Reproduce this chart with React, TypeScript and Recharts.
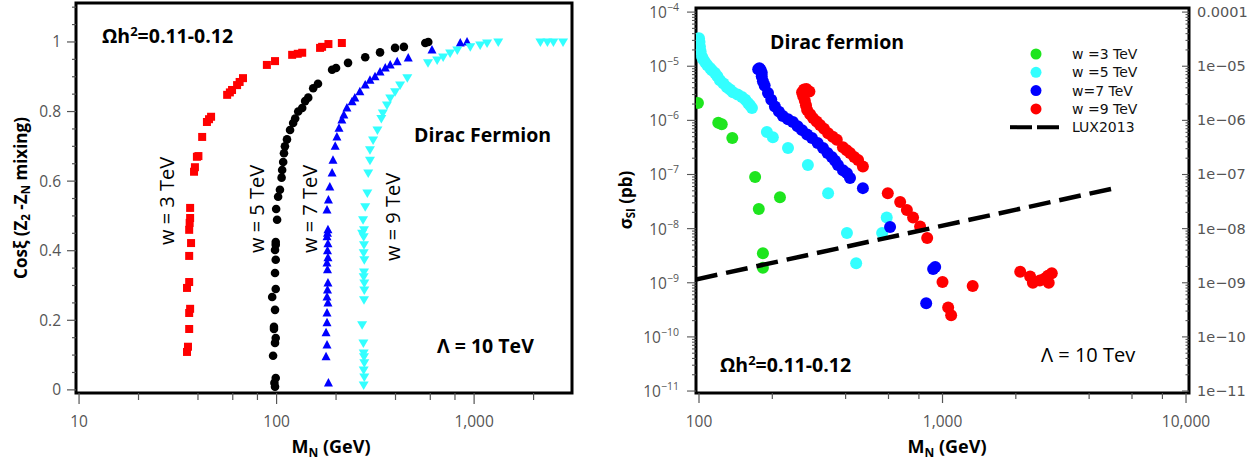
import React from "react";
import { ScatterChart, Scatter, XAxis, YAxis, ReferenceArea, Legend } from "recharts";

type Pt = [number, number];

// ---- left panel: Cos(xi) vs M_N (GeV) ----
const mixW3: Pt[] = [
  [35.2, 0.109], [35.6, 0.124], [36.1, 0.175], [36.1, 0.221], [36.5, 0.233], [35.2, 0.293],
  [36.1, 0.31], [36.1, 0.385], [36.9, 0.422], [36.1, 0.46], [36.3, 0.48], [36.5, 0.494],
  [36.5, 0.523], [38.2, 0.627], [38.6, 0.64], [39.5, 0.67], [40.2, 0.672], [42.0, 0.727],
  [44.4, 0.77], [45.5, 0.778], [46.6, 0.785], [56.2, 0.848], [58, 0.855], [59.5, 0.862],
  [63.1, 0.876], [65, 0.885], [67.6, 0.896], [89.3, 0.934], [98.2, 0.945], [119.9, 0.963],
  [128, 0.966], [134.8, 0.969], [166, 0.983], [170, 0.986], [183, 0.994], [214, 0.997],
];
const mixW5: Pt[] = [
  [98.2, 0.009], [97.5, 0.02], [99, 0.034], [96, 0.098], [98.2, 0.135], [99, 0.149],
  [97, 0.175], [97, 0.181], [98.2, 0.23], [95, 0.267], [99, 0.29], [98.2, 0.336],
  [99, 0.374], [98.2, 0.402], [99, 0.417], [99, 0.425], [100.6, 0.489], [99.5, 0.52],
  [101.8, 0.555], [104, 0.575], [106, 0.61], [106.7, 0.632], [108, 0.655], [109, 0.68],
  [110.2, 0.7], [112.9, 0.72], [117, 0.747], [121.3, 0.767], [124.2, 0.78], [128.7, 0.8],
  [134.8, 0.81], [139.5, 0.83], [144.6, 0.84], [153.2, 0.867], [162, 0.88], [191, 0.92],
  [200, 0.925], [230, 0.94], [281, 0.956], [334, 0.97], [398, 0.983], [441, 0.986],
  [566, 0.997], [586, 1.0],
];
const mixW7: Pt[] = [
  [183, 0.02], [178, 0.095], [180, 0.129], [178, 0.164], [180, 0.193], [180, 0.221],
  [182, 0.25], [180, 0.267], [181, 0.287], [182, 0.307], [181, 0.345], [180, 0.365],
  [182, 0.38], [181, 0.4], [182, 0.42], [180, 0.44], [181, 0.45], [182, 0.46], [180, 0.517],
  [183, 0.546], [186, 0.583], [191, 0.623], [193, 0.66], [198, 0.7], [202, 0.727],
  [207, 0.752], [214, 0.776], [219, 0.79], [227, 0.81], [241, 0.828], [249, 0.839],
  [264, 0.857], [281, 0.876], [297, 0.89], [315, 0.9], [334, 0.914], [355, 0.925],
  [376, 0.934], [408, 0.943], [464, 0.954], [612, 0.977], [851, 0.997], [921, 1.0],
];
const mixW9: Pt[] = [
  [276, 0.014], [278, 0.037], [276, 0.057], [278, 0.078], [277, 0.095], [276, 0.106],
  [275, 0.135], [271, 0.187], [277, 0.259], [278, 0.287], [278, 0.307], [276, 0.325],
  [277, 0.339], [278, 0.374], [276, 0.394], [277, 0.417], [276, 0.44], [277, 0.46],
  [271, 0.45], [274, 0.489], [281, 0.526], [288, 0.566], [291, 0.623], [297, 0.66],
  [297, 0.69], [308, 0.718], [324, 0.747], [339, 0.78], [345, 0.796], [362, 0.819],
  [376, 0.839], [398, 0.857], [422, 0.876], [459, 0.897], [584, 0.94], [650, 0.948],
  [697, 0.957], [756, 0.968], [822, 0.977], [956, 0.986], [1073, 0.991], [1163, 0.997],
  [1325, 1.0], [2165, 1.0], [2350, 1.0], [2520, 1.0], [2820, 1.0],
];

const mixXDomain: [number, number] = [9.65, 3130];
const mixYDomain: [number, number] = [-0.009, 1.112];
const mixXTicks = [10, 20, 40, 60, 80, 100, 200, 400, 600, 800, 1000, 2000];
const mixXMajors = [10, 100, 1000];
const mixYTicks = Array.from({ length: 23 }, (_, i) => +(i * 0.05).toFixed(2));
const mixYMajors = [0, 0.2, 0.4, 0.6, 0.8, 1];

// ---- right panel: sigma_SI (pb) vs M_N (GeV) ----
const siW3: Pt[] = [
  [99, 2.1e-6], [120, 9e-7], [124, 8.5e-7], [137, 4.7e-7], [170, 9e-8], [176, 2.3e-8],
  [215, 3.8e-8], [183, 3.5e-9], [183, 1.9e-9],
];
const siW5: Pt[] = [
  [100, 3.3e-5], [100.5, 2.8e-5], [100.9, 2.3e-5], [101.5, 1.9e-5], [102.9, 1.5e-5],
  [104, 1.35e-5], [105.8, 1.2e-5], [108, 1.05e-5], [110.9, 9.3e-6], [113, 8.4e-6],
  [116.3, 7.5e-6], [119, 6.5e-6], [121.9, 5.5e-6], [126, 4.8e-6], [130.3, 4.1e-6],
  [134, 3.7e-6], [137.9, 3.3e-6], [144, 3.0e-6], [150.1, 2.7e-6], [155, 2.4e-6],
  [158.9, 2.1e-6], [162, 1.9e-6], [165, 1.7e-6], [190, 6.1e-7], [201, 4.9e-7],
  [232, 3.1e-7], [280, 1.5e-7], [339, 4.5e-8], [405, 8.3e-9], [442, 2.3e-9],
  [565, 8.3e-9], [590, 1.6e-8],
];
const siW7: Pt[] = [
  [175, 8.8e-6], [177, 9.2e-6], [179, 8.6e-6], [181, 7.6e-6], [181, 6.5e-6], [183, 5.3e-6],
  [186, 4.4e-6], [192, 3.2e-6], [198, 2.4e-6], [205, 1.8e-6], [213, 1.45e-6], [221, 1.2e-6],
  [232, 1.05e-6], [243, 9.3e-7], [254, 7.8e-7], [265, 6.6e-7], [278, 5.5e-7], [291, 4.7e-7],
  [307, 3.8e-7], [323, 3.1e-7], [337, 2.5e-7], [351, 2.1e-7], [362, 1.8e-7], [372, 1.5e-7],
  [390, 1.2e-7], [405, 1.06e-7], [417, 8.6e-8], [471, 5.6e-8], [609, 1.07e-8],
  [857, 4.2e-10], [915, 1.8e-9], [933, 1.95e-9],
];
const siW9: Pt[] = [
  [265, 3.3e-6], [270, 3.7e-6], [276, 3.8e-6], [284, 3.4e-6], [268, 2.8e-6], [272, 2.3e-6],
  [275, 1.9e-6], [278, 1.55e-6], [286, 1.3e-6], [294, 1.1e-6], [304, 9.5e-7], [314, 8.2e-7],
  [326, 7e-7], [339, 5.8e-7], [354, 5e-7], [368, 4.4e-7], [390, 3.2e-7], [404, 2.8e-7],
  [417, 2.5e-7], [434, 2.1e-7], [450, 1.85e-7], [471, 1.4e-7], [596, 4.5e-8], [670, 3.1e-8],
  [714, 2.2e-8], [757, 1.6e-8], [809, 1.1e-8], [865, 6.7e-9], [1000, 1.03e-9],
  [1055, 3.5e-10], [1085, 2.5e-10], [1330, 8.7e-10], [2085, 1.6e-9], [2290, 1.3e-9],
  [2350, 1.0e-9], [2510, 1.1e-9], [2630, 1.2e-9], [2710, 1.35e-9], [2810, 1.5e-9],
  [2730, 1.0e-9],
];
const lux2013: Pt[] = [[97, 1.15e-9], [5100, 5.6e-8]];

const siXDomain: [number, number] = [97.2, 10285];
const siYDomain: [number, number] = [9.2e-12, 1.19e-4];
const siXTicks = [100, 200, 400, 600, 800, 1000, 2000, 4000, 6000, 8000, 10000];
const siXMajors = [100, 1000, 10000];
const siDecades = [-11, -10, -9, -8, -7, -6, -5, -4];
const siYMajors = siDecades.map((e) => Math.pow(10, e));
const siYTicks = siDecades
  .flatMap((e) => [1, 2, 3, 4, 5, 6, 7, 8, 9].map((m) => m * Math.pow(10, e)))
  .filter((v) => v >= siYDomain[0] && v <= siYDomain[1]);
const siRightLabels = ["1e\u221211", "1e\u221210", "1e\u221209", "1e\u221208", "1e\u221207", "1e\u221206", "1e\u221205", "0.0001"];

const legendNames = ["w =3 TeV", "w =5 TeV", "w=7 TeV", "w =9 TeV", "LUX2013"];

const toRows = (pts: Pt[]) => pts.map(([x, y]) => ({ x, y }));

const FONT = "'Open Sans', 'DejaVu Sans', sans-serif";
const tickText = { fontFamily: FONT, fontSize: 15.5, fill: "#555" };

const isMajor = (v: number, majors: number[]) =>
  majors.some((m) => Math.abs(v - m) <= Math.abs(m) * 1e-6 + 1e-12);

const fmtThousands = (v: number) => v.toLocaleString("en-US");

type TickArgs = { x?: number; y?: number; payload?: { value: number } };

const bottomTick = (majors: number[], majorLen: number, minorLen: number) => (p: TickArgs) => {
  const x = p.x ?? 0;
  const y = p.y ?? 0;
  const v = p.payload?.value ?? 0;
  const major = isMajor(v, majors);
  return (
    <g>
      <line x1={x} x2={x} y1={y} y2={y + (major ? majorLen : minorLen)} stroke="#555" strokeWidth={1.2} />
      {major && (
        <text x={x} y={y + 34} textAnchor="middle" {...tickText}>
          {fmtThousands(v)}
        </text>
      )}
    </g>
  );
};

const mixLeftTick = (p: TickArgs) => {
  const x = p.x ?? 0;
  const y = p.y ?? 0;
  const v = p.payload?.value ?? 0;
  const major = isMajor(v, mixYMajors);
  return (
    <g>
      <line x1={x} x2={x - (major ? 9 : 4)} y1={y} y2={y} stroke="#555" strokeWidth={1.2} />
      {major && (
        <text x={x - 15} y={y + 5.5} textAnchor="end" {...tickText}>
          {String(v)}
        </text>
      )}
    </g>
  );
};

const siLeftTick = (p: TickArgs) => {
  const x = p.x ?? 0;
  const y = p.y ?? 0;
  const v = p.payload?.value ?? 1;
  const major = isMajor(v, siYMajors);
  const e = Math.round(Math.log10(v));
  return (
    <g>
      <line x1={x} x2={x - (major ? 9 : 4)} y1={y} y2={y} stroke="#555" strokeWidth={1.1} />
      {major && (
        <text x={x - 17} y={y + 6} textAnchor="end" {...tickText}>
          10
          <tspan dy={-7} fontSize={10.5}>
            {"\u2212" + String(-e)}
          </tspan>
        </text>
      )}
    </g>
  );
};

const siRightTick = (p: TickArgs) => {
  const x = p.x ?? 0;
  const y = p.y ?? 0;
  const v = p.payload?.value ?? 1;
  const major = isMajor(v, siYMajors);
  const idx = siYMajors.findIndex((m) => isMajor(v, [m]));
  return (
    <g>
      <line x1={x} x2={x - (major ? 7 : 3.5)} y1={y} y2={y} stroke="#555" strokeWidth={1.1} />
      {major && (
        <text x={x + 8} y={y + 5} textAnchor="start" fontFamily="'DejaVu Sans', sans-serif" fontSize={14.5} fill="#555">
          {siRightLabels[idx]}
        </text>
      )}
    </g>
  );
};

type ShapeArgs = { cx?: number; cy?: number };

const square = (color: string) => (p: ShapeArgs) => (
  <rect x={(p.cx ?? 0) - 4} y={(p.cy ?? 0) - 4} width={8} height={8} fill={color} />
);
const dot = (color: string, r: number) => (p: ShapeArgs) => (
  <circle cx={p.cx} cy={p.cy} r={r} fill={color} />
);
const triUp = (color: string) => (p: ShapeArgs) => {
  const cx = p.cx ?? 0;
  const cy = p.cy ?? 0;
  return <polygon points={`${cx},${cy - 5} ${cx - 4.5},${cy + 3.5} ${cx + 4.5},${cy + 3.5}`} fill={color} />;
};
const triDown = (color: string) => (p: ShapeArgs) => {
  const cx = p.cx ?? 0;
  const cy = p.cy ?? 0;
  return <polygon points={`${cx},${cy + 5} ${cx - 5},${cy - 3.5} ${cx + 5},${cy - 3.5}`} fill={color} />;
};
const noShape = () => <g />;

const siColors = ["#1ee51e", "#33ffff", "#0000ff", "#ff0000"];

const SiLegend = () => (
  <svg width={170} height={100}>
    {legendNames.map((name, i) => {
      const cy = 12 + i * 18.3;
      return (
        <g key={name}>
          {i < 4 ? (
            <circle cx={36} cy={cy} r={5.5} fill={siColors[i]} />
          ) : (
            <line x1={10} x2={60} y1={cy} y2={cy} stroke="#000" strokeWidth={4} strokeDasharray="22 5" />
          )}
          <text x={72} y={cy + 5} fontFamily="'DejaVu Sans', sans-serif" fontSize={14} fill="#111">
            {name}
          </text>
        </g>
      );
    })}
  </svg>
);

const boldText = { fontFamily: FONT, fontWeight: 700, fill: "#000" } as const;

export default function App() {
  return (
    <div style={{ position: "absolute", left: 0, top: 0, width: 1256, height: 466, background: "#fff" }}>
      <div style={{ position: "absolute", left: 0, top: 0 }}>
        <ScatterChart width={600} height={466} margin={{ top: 3, right: 28, left: 0, bottom: 13 }}>
          <XAxis
            type="number"
            dataKey="x"
            scale="log"
            domain={mixXDomain}
            allowDataOverflow
            ticks={mixXTicks}
            interval={0}
            height={60}
            axisLine={false}
            tickLine={false}
            tickSize={0}
            tickMargin={0}
            tick={bottomTick(mixXMajors, 11, 7)}
          />
          <YAxis
            type="number"
            dataKey="y"
            domain={mixYDomain}
            allowDataOverflow
            ticks={mixYTicks}
            interval={0}
            width={76}
            axisLine={false}
            tickLine={false}
            tickSize={0}
            tickMargin={0}
            tick={mixLeftTick}
          />
          <Scatter name="w = 3 TeV" data={toRows(mixW3)} shape={square("#ff0000")} isAnimationActive={false} />
          <Scatter name="w = 5 TeV" data={toRows(mixW5)} shape={dot("#000000", 4.3)} isAnimationActive={false} />
          <Scatter name="w = 7 TeV" data={toRows(mixW7)} shape={triUp("#0000ff")} isAnimationActive={false} />
          <Scatter name="w = 9 TeV" data={toRows(mixW9)} shape={triDown("#33ffff")} isAnimationActive={false} />
          <ReferenceArea
            x1={mixXDomain[0]}
            x2={mixXDomain[1]}
            y1={mixYDomain[0]}
            y2={mixYDomain[1]}
            fill="none"
            stroke="#000"
            strokeWidth={3}
            ifOverflow="visible"
          />
        </ScatterChart>
      </div>

      <div style={{ position: "absolute", left: 600, top: 0 }}>
        <ScatterChart width={656} height={466} margin={{ top: 8, right: 0, left: 0, bottom: 13 }}>
          <XAxis
            type="number"
            dataKey="x"
            scale="log"
            domain={siXDomain}
            allowDataOverflow
            ticks={siXTicks}
            interval={0}
            height={60}
            axisLine={false}
            tickLine={false}
            tickSize={0}
            tickMargin={0}
            tick={bottomTick(siXMajors, 10, 6)}
          />
          <YAxis
            yAxisId="l"
            type="number"
            dataKey="y"
            scale="log"
            domain={siYDomain}
            allowDataOverflow
            ticks={siYTicks}
            interval={0}
            width={96}
            axisLine={false}
            tickLine={false}
            tickSize={0}
            tickMargin={0}
            tick={siLeftTick}
          />
          <YAxis
            yAxisId="r"
            orientation="right"
            type="number"
            scale="log"
            domain={siYDomain}
            allowDataOverflow
            ticks={siYTicks}
            interval={0}
            width={67}
            axisLine={false}
            tickLine={false}
            tickSize={0}
            tickMargin={0}
            tick={siRightTick}
          />
          <Scatter yAxisId="l" name={legendNames[0]} data={toRows(siW3)} fill={siColors[0]} shape={dot(siColors[0], 6)} isAnimationActive={false} />
          <Scatter yAxisId="l" name={legendNames[1]} data={toRows(siW5)} fill={siColors[1]} shape={dot(siColors[1], 6)} isAnimationActive={false} />
          <Scatter yAxisId="l" name={legendNames[2]} data={toRows(siW7)} fill={siColors[2]} shape={dot(siColors[2], 6)} isAnimationActive={false} />
          <Scatter yAxisId="l" name={legendNames[3]} data={toRows(siW9)} fill={siColors[3]} shape={dot(siColors[3], 6)} isAnimationActive={false} />
          <Scatter
            yAxisId="l"
            name={legendNames[4]}
            data={toRows(lux2013)}
            fill="#000"
            line={{ stroke: "#000", strokeWidth: 4.5, strokeDasharray: "22 9" }}
            shape={noShape}
            legendType="line"
            isAnimationActive={false}
          />
          <ReferenceArea
            yAxisId="l"
            x1={siXDomain[0]}
            x2={siXDomain[1]}
            y1={siYDomain[0]}
            y2={siYDomain[1]}
            fill="none"
            stroke="#000"
            strokeWidth={3}
            ifOverflow="visible"
          />
          <Legend
            layout="vertical"
            align="center"
            verticalAlign="middle"
            content={SiLegend}
            wrapperStyle={{ position: "absolute", left: 400, top: 42, width: 170, height: 100 }}
          />
        </ScatterChart>
      </div>

      <svg
        width={1256}
        height={466}
        style={{ position: "absolute", left: 0, top: 0, pointerEvents: "none" }}
      >
        {/* left panel annotations */}
        <text x={102} y={43} fontSize={19.5} {...boldText}>
          Ωh<tspan dy={-7} fontSize={13}>2</tspan>
          <tspan dy={7}>=0.11-0.12</tspan>
        </text>
        <text x={414} y={142} fontSize={19.5} {...boldText}>Dirac Fermion</text>
        <text x={437} y={353} fontSize={19.5} {...boldText}>Λ = 10 TeV</text>
        {[
          { label: "w = 3 TeV", x: 174, y: 201 },
          { label: "w = 5 TeV", x: 264, y: 209 },
          { label: "w = 7 TeV", x: 317, y: 209 },
          { label: "w = 9 TeV", x: 400, y: 217 },
        ].map((t) => (
          <text
            key={t.label}
            x={t.x}
            y={t.y}
            transform={`rotate(-90 ${t.x} ${t.y})`}
            textAnchor="middle"
            fontFamily={FONT}
            fontSize={20}
            fill="#000"
          >
            {t.label}
          </text>
        ))}
        <text
          x={27}
          y={198}
          transform="rotate(-90 27 198)"
          textAnchor="middle"
          fontSize={17}
          {...boldText}
        >
          Cosξ (Z<tspan dy={3} fontSize={11.5}>2</tspan>
          <tspan dy={-3}> -Z</tspan>
          <tspan dy={3} fontSize={11.5}>N</tspan>
          <tspan dy={-3}> mixing)</tspan>
        </text>
        <text x={331} y={453} textAnchor="middle" fontSize={18} {...boldText}>
          M<tspan dy={3.5} fontSize={12}>N</tspan>
          <tspan dy={-3.5}> (GeV)</tspan>
        </text>

        {/* right panel annotations */}
        <text x={770} y={49} fontSize={19.5} {...boldText}>Dirac fermion</text>
        <text x={720} y={372} fontSize={19.5} {...boldText}>
          Ωh<tspan dy={-7} fontSize={13}>2</tspan>
          <tspan dy={7}>=0.11-0.12</tspan>
        </text>
        <text x={1041} y={362} fontFamily={FONT} fontSize={20} fill="#000">Λ = 10 Tev</text>
        <text
          x={632}
          y={200}
          transform="rotate(-90 632 200)"
          textAnchor="middle"
          fontSize={17}
          {...boldText}
        >
          σ<tspan dy={3} fontSize={11.5}>SI</tspan>
          <tspan dy={-3}> (pb)</tspan>
        </text>
        <text x={947} y={453} textAnchor="middle" fontSize={18} {...boldText}>
          M<tspan dy={3.5} fontSize={12}>N</tspan>
          <tspan dy={-3.5}> (GeV)</tspan>
        </text>
      </svg>
    </div>
  );
}
